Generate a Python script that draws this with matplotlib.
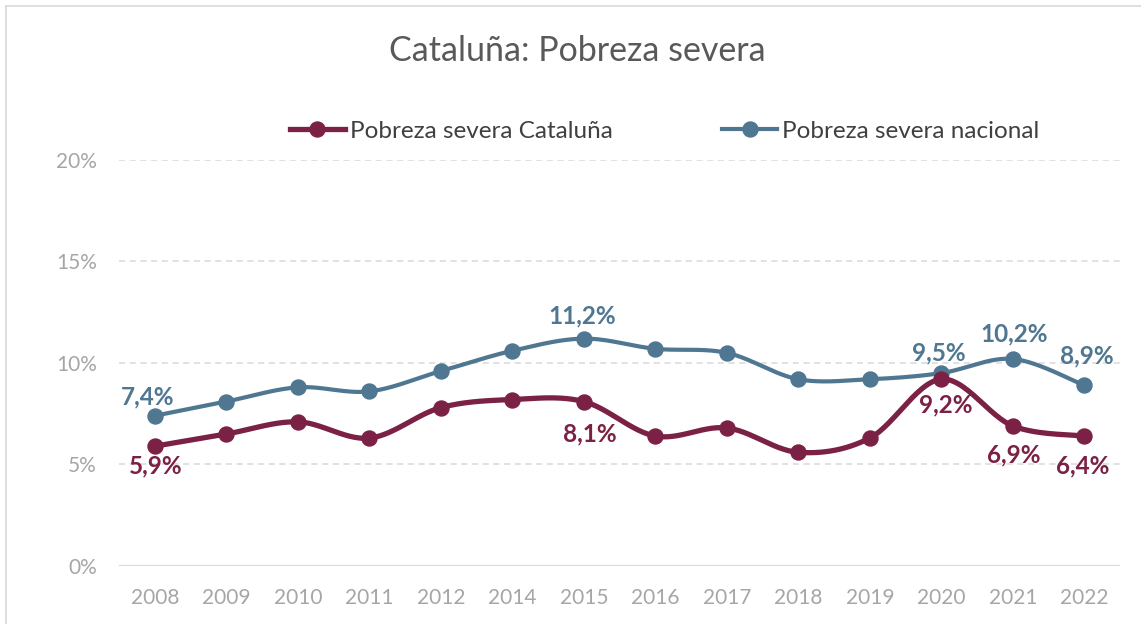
import numpy as np
import matplotlib
matplotlib.use("Agg")
import matplotlib.pyplot as plt
from matplotlib.lines import Line2D

years = ["2008", "2009", "2010", "2011", "2012", "2014", "2015", "2016",
         "2017", "2018", "2019", "2020", "2021", "2022"]
cataluna = [5.9, 6.5, 7.1, 6.3, 7.8, 8.2, 8.1, 6.4, 6.8, 5.6, 6.3, 9.2, 6.9, 6.4]
nacional = [7.4, 8.1, 8.8, 8.6, 9.6, 10.6, 11.2, 10.7, 10.5, 9.2, 9.2, 9.5, 10.2, 8.9]
cat_labels_idx = [0, 6, 11, 12, 13]
nac_labels_idx = [0, 6, 11, 12, 13]

name_cat = "Pobreza severa Cataluña"
name_nac = "Pobreza severa nacional"
col_cat = "#7B2145"
col_nac = "#4F7791"

# label offsets in pixels (dx, dy; dy positive = down), style only
cat_off = [(1, 20), (6, 32), (4, 26), (1, 29), (-2, 30)]
nac_off = [(-7, -19), (-2, -23), (-2, -20), (1, -25), (3, -29)]

plt.rcParams['font.family'] = ['Lato', 'DejaVu Sans']


def smooth(xs, ys, n=30):
    xs = np.asarray(xs, float)
    ys = np.asarray(ys, float)
    px = np.concatenate([[xs[0]], xs, [xs[-1]]])
    py = np.concatenate([[ys[0]], ys, [ys[-1]]])
    ox, oy = [], []
    t = np.linspace(0, 1, n)
    for i in range(1, len(px) - 2):
        p0x, p1x, p2x, p3x = px[i - 1], px[i], px[i + 1], px[i + 2]
        p0y, p1y, p2y, p3y = py[i - 1], py[i], py[i + 1], py[i + 2]
        c1x = p1x + (p2x - p0x) / 6
        c1y = p1y + (p2y - p0y) / 6
        c2x = p2x - (p3x - p1x) / 6
        c2y = p2y - (p3y - p1y) / 6
        bx = (1 - t) ** 3 * p1x + 3 * (1 - t) ** 2 * t * c1x + 3 * (1 - t) * t ** 2 * c2x + t ** 3 * p2x
        by = (1 - t) ** 3 * p1y + 3 * (1 - t) ** 2 * t * c1y + 3 * (1 - t) * t ** 2 * c2y + t ** 3 * p2y
        ox.extend(bx)
        oy.extend(by)
    return np.array(ox), np.array(oy)


fig = plt.figure(figsize=(11.41, 6.24), dpi=100)
W, H = 1141, 624
fig.add_artist(Line2D([6 / W, 1.0], [1 - 6 / H, 1 - 6 / H], transform=fig.transFigure,
                      color="#d9d9d9", lw=1.2))
fig.add_artist(Line2D([6 / W, 6 / W], [0, 1 - 6 / H], transform=fig.transFigure,
                      color="#d9d9d9", lw=1.2))
ax = fig.add_axes([0.1043, 0.093, 0.8773, 0.6506])

x = np.arange(len(years))
for vals, col, lw in [(nacional, col_nac, 3.0), (cataluna, col_cat, 3.8)]:
    sx, sy = smooth(x, vals)
    ax.plot(sx, sy, color=col, lw=lw, solid_capstyle="round", zorder=3)
    ax.plot(x, vals, "o", color=col, markersize=10.8, zorder=4)

for k, i in enumerate(nac_labels_idx):
    dx, dy = nac_off[k]
    ax.annotate(f"{nacional[i]:.1f}%".replace(".", ","), (x[i], nacional[i]),
                xytext=(dx * 0.72, -dy * 0.72), textcoords="offset points",
                ha="center", va="center",
                color=col_nac, fontsize=17.5, fontweight="bold", zorder=5)
for k, i in enumerate(cat_labels_idx):
    dx, dy = cat_off[k]
    ax.annotate(f"{cataluna[i]:.1f}%".replace(".", ","), (x[i], cataluna[i]),
                xytext=(dx * 0.72, -dy * 0.72), textcoords="offset points",
                ha="center", va="center",
                color=col_cat, fontsize=17.5, fontweight="bold", zorder=5)

ax.set_xlim(-0.5, len(years) - 0.5)
ax.set_ylim(0, 20)
ax.set_yticks([0, 5, 10, 15, 20])
ax.set_yticklabels([f"{v}%" for v in [0, 5, 10, 15, 20]])
ax.set_xticks(x)
ax.set_xticklabels(years)
ax.tick_params(axis="both", length=0, labelsize=15, colors="#a6a6a6")
ax.tick_params(axis="x", pad=16)
ax.tick_params(axis="y", pad=16)
for s in ax.spines.values():
    s.set_visible(False)
ax.axhline(0, color="#d9d9d9", lw=1.6, zorder=1)
for v in [5, 10, 15, 20]:
    ax.axhline(v, color="#d9d9d9", lw=1.1, ls=(0, (4, 3)), zorder=1)
ax.patch.set_alpha(0)

fig.text(0.506, 0.918, "Cataluña: Pobreza severa", ha="center", va="center",
         fontsize=24.5, color="#595959")

handles = [Line2D([], [], color=col_cat, lw=3.8, marker="o", markersize=10.8),
           Line2D([], [], color=col_nac, lw=3.0, marker="o", markersize=10.8)]
fig.legend(handles, [name_cat, name_nac], loc="center left",
           bbox_to_anchor=(290 / W, 1 - 131 / H),
           ncol=2, frameon=False, fontsize=17.5, handlelength=2.26, handletextpad=0.2,
           columnspacing=4.5, borderpad=0, borderaxespad=0, labelcolor="#404040")

fig.savefig("out.png", dpi=100)
